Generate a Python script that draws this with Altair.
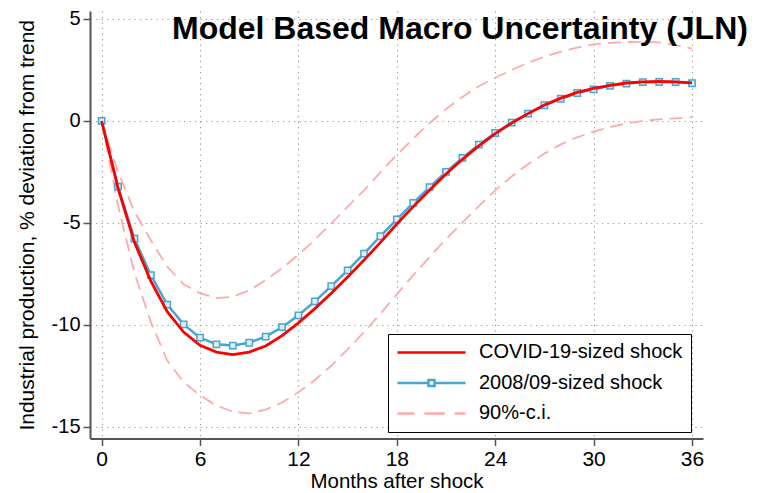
import altair as alt
import pandas as pd

TITLE = "Model Based Macro Uncertainty (JLN)"
X_TITLE = "Months after shock"
Y_TITLE = "Industrial production, % deviation from trend"

months = list(range(37))

covid = [0.0, -3.3, -5.95, -7.85, -9.35, -10.35, -11.0, -11.33, -11.45, -11.33,
         -11.03, -10.52, -9.9, -9.2, -8.45, -7.65, -6.82, -5.95, -5.05, -4.2,
         -3.38, -2.6, -1.88, -1.22, -0.62, -0.1, 0.36, 0.78, 1.12, 1.4,
         1.6, 1.75, 1.86, 1.92, 1.94, 1.92, 1.87]

gfc = [0.0, -3.22, -5.77, -7.56, -9.0, -9.97, -10.62, -10.95, -11.01, -10.87,
       -10.57, -10.11, -9.53, -8.84, -8.1, -7.32, -6.5, -5.65, -4.82, -4.02,
       -3.24, -2.5, -1.81, -1.16, -0.59, -0.08, 0.36, 0.77, 1.09, 1.37,
       1.55, 1.72, 1.83, 1.9, 1.91, 1.91, 1.85]

ci_upper = [0.0, -2.5, -4.45, -5.85, -7.15, -8.0, -8.45, -8.68, -8.62, -8.3,
            -7.8, -7.22, -6.56, -5.82, -5.02, -4.2, -3.4, -2.52, -1.66, -0.86,
            -0.1, 0.58, 1.18, 1.7, 2.12, 2.5, 2.85, 3.15, 3.4, 3.6,
            3.75, 3.83, 3.87, 3.88, 3.85, 3.72, 3.55]

ci_lower = [0.0, -4.15, -7.45, -9.85, -11.75, -12.8, -13.45, -13.95, -14.25, -14.33,
            -14.15, -13.8, -13.3, -12.7, -12.0, -11.2, -10.35, -9.45, -8.5, -7.56,
            -6.66, -5.8, -4.98, -4.18, -3.4, -2.72, -2.12, -1.6, -1.15, -0.8,
            -0.52, -0.3, -0.12, 0.0, 0.08, 0.13, 0.18]

series_names = ["COVID-19-sized shock", "2008/09-sized shock", "90%-c.i."]
x_ticks = [0, 6, 12, 18, 24, 30, 36]
y_ticks = [-15, -10, -5, 0, 5]

RED = "#ff0000"
BLUE = "#45a6d2"
PINK = "#ffaaaa"
FONT = "Liberation Sans"

covid_df = pd.DataFrame({"month": months, "value": covid})
gfc_df = pd.DataFrame({"month": months, "value": gfc})
ci_df = pd.concat([
    pd.DataFrame({"month": months, "value": ci_upper, "bound": "upper"}),
    pd.DataFrame({"month": months, "value": ci_lower, "bound": "lower"}),
])
legend_df = pd.DataFrame({"series": series_names, "month": [0] * 3, "value": [0.0] * 3})
title_df = pd.DataFrame({"t": [TITLE]})

xs = alt.Scale(domain=[-0.71, 36.67], nice=False, zero=False)
ys = alt.Scale(domain=[-15.57, 5.39], nice=False, zero=False)

x_enc = alt.X("month:Q", scale=xs, axis=alt.Axis(
    values=x_ticks, title=X_TITLE, labelFontSize=21, titleFontSize=20.5,
    labelPadding=3, titlePadding=2, tickSize=7, labelFlush=False,
    labelExpr="toString(datum.value)"))
y_enc = alt.Y("value:Q", scale=ys, axis=alt.Axis(
    values=y_ticks, title=Y_TITLE, labelFontSize=20, titleFontSize=21,
    labelPadding=3, titlePadding=14, tickSize=7, labelFlush=False,
    labelExpr="toString(datum.value)"))

ci = alt.Chart(ci_df).mark_line(color=PINK, strokeWidth=1.8, strokeDash=[13, 7]).encode(
    x=x_enc, y=y_enc, detail="bound:N")
gfc_line = alt.Chart(gfc_df).mark_line(color=BLUE, strokeWidth=2.5).encode(x=x_enc, y=y_enc)
gfc_pts = alt.Chart(gfc_df).mark_point(
    shape="square", size=40, fill="#dceff8", stroke=BLUE, strokeWidth=1.5,
    opacity=1, fillOpacity=1).encode(x=x_enc, y=y_enc)
covid_line = alt.Chart(covid_df).mark_line(color=RED, strokeWidth=2.8).encode(x=x_enc, y=y_enc)

sym_paths = [
    "M-1,0H1",
    "M-1,0H-0.09M0.09,0H1M-0.09,-0.09H0.09V0.09H-0.09Z",
    "M-1,0H-0.5M-0.21,0H0.39M0.68,0H1",
]
leg = alt.Legend(
    title=None, orient="none", legendX=298, legendY=323,
    fillColor="white", strokeColor="black", padding=8,
    clipHeight=21, rowPadding=9.5, labelFontSize=20, labelFont=FONT,
    labelColor="black", labelOffset=12, labelLimit=400,
    symbolSize=4624, symbolStrokeWidth=2.5, symbolOpacity=1, symbolOffset=0,
)
legend_layer = alt.Chart(legend_df).mark_point(opacity=0, filled=False, strokeWidth=2.5).encode(
    x=x_enc, y=y_enc,
    color=alt.Color("series:N", scale=alt.Scale(domain=series_names, range=[RED, BLUE, PINK]), legend=leg),
    shape=alt.Shape("series:N", scale=alt.Scale(domain=series_names, range=sym_paths), legend=leg),
)

title_layer = alt.Chart(title_df).mark_text(
    font=FONT, fontSize=32, fontWeight="bold", align="center",
    baseline="alphabetic", color="black").encode(
    x=alt.value(370), y=alt.value(28), text="t:N")

chart = alt.layer(ci, gfc_line, gfc_pts, covid_line, legend_layer, title_layer).properties(
    width=613, height=427.6,
    padding={"left": 8, "top": 0, "right": 5, "bottom": 0},
    background="white",
).configure_view(stroke=None).configure_axis(
    labelFont=FONT, titleFont=FONT, labelColor="black", titleColor="black",
    titleFontWeight="normal", domainColor="#555555", domainWidth=2,
    tickColor="#555555", tickWidth=1.5, gridColor="#999999", gridDash=[1.2, 4.3],
    gridWidth=1.1,
)

chart.save("out.html", embed_options={"renderer": "svg", "actions": False})
